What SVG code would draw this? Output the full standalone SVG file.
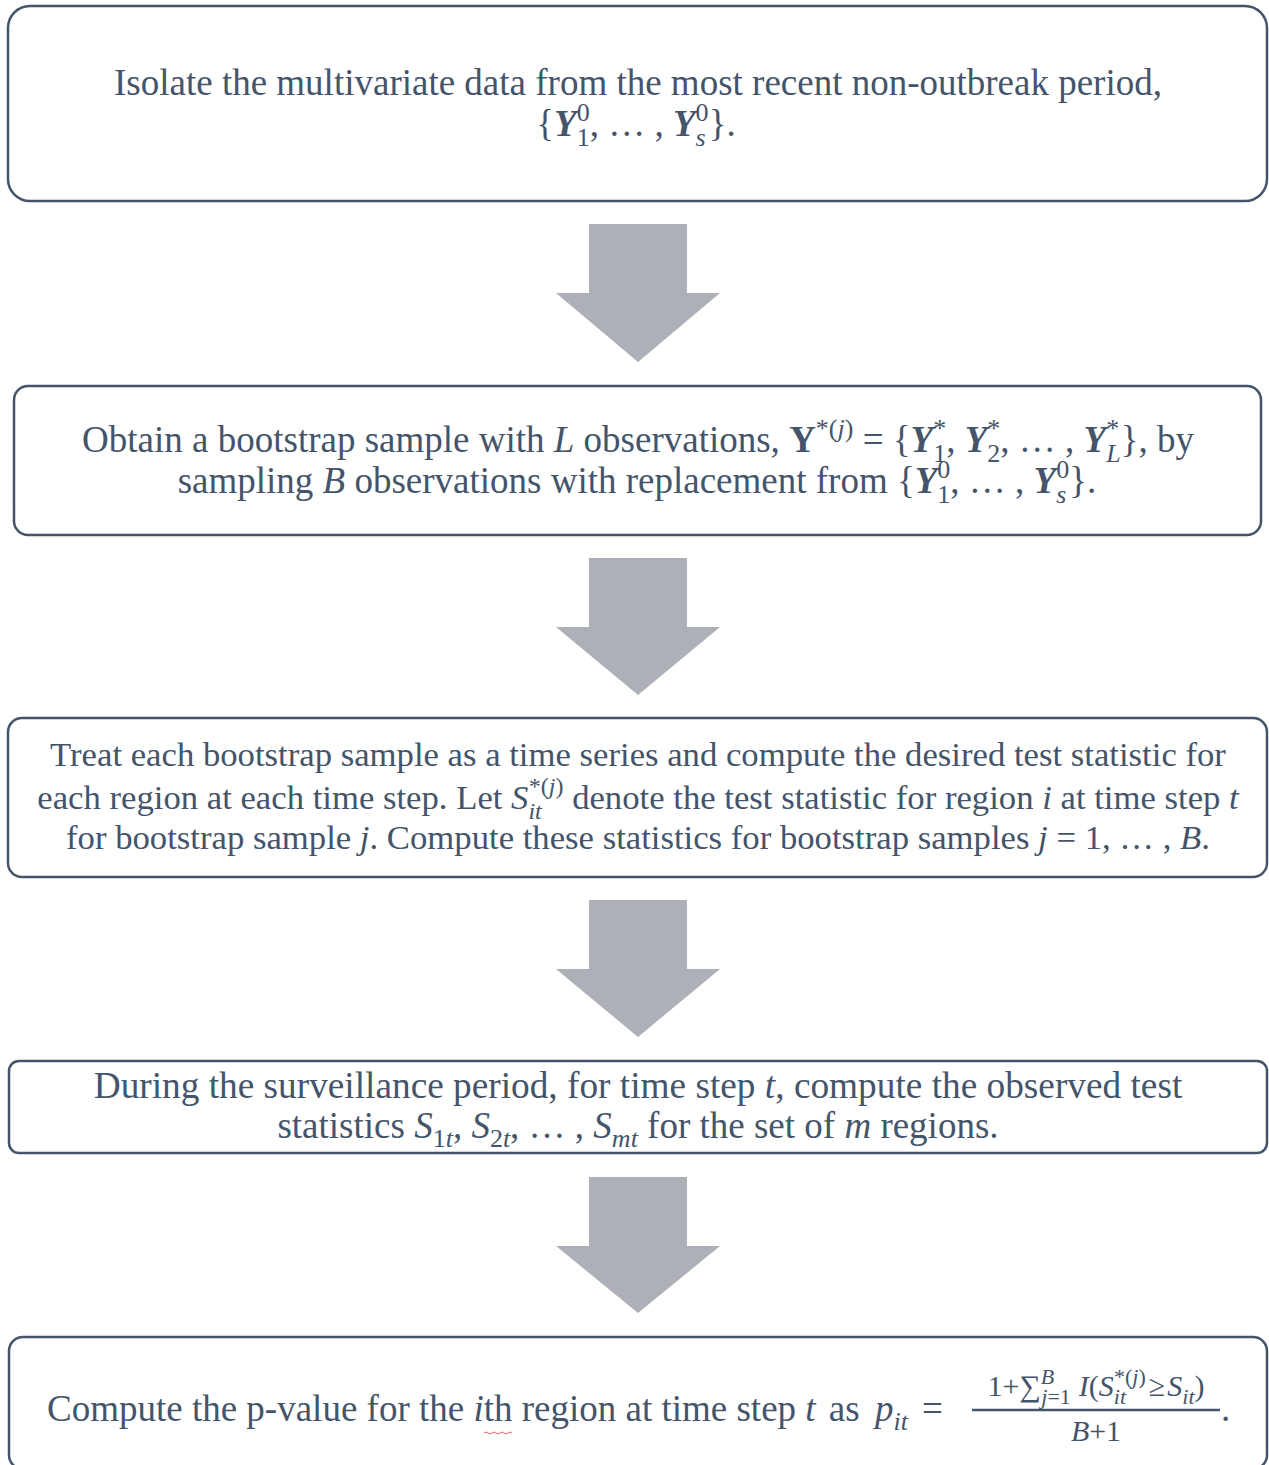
<svg xmlns="http://www.w3.org/2000/svg" width="1269" height="1465" viewBox="0 0 1269 1465">
<defs>
<style>
.box{fill:#FFFFFF;stroke:#44546A;stroke-width:2.5}
.arr{fill:#AEB0B8}
.t{font-family:"Liberation Serif","Times New Roman",serif;font-size:37px;fill:#44546A}
.t3{font-size:34.7px}
.t4{font-size:37.3px}
.c{text-anchor:middle}
.i{font-style:italic}
.bi{font-style:italic;font-weight:bold}
.b{font-weight:bold}
.s{font-size:26px}
.s3{font-size:24px}
.n{font-family:"Liberation Serif","Times New Roman",serif;font-size:30px;fill:#44546A}
.ss{font-size:22px}
</style>
</defs>
<rect width="1269" height="1465" fill="#FFFFFF"/>
<g id="connectors">
<polygon class="arr" points="589,224 687,224 687,293 720,293 638,362 556,293 589,293"/>
<polygon class="arr" points="589,558 687,558 687,627 720,627 638,695 556,627 589,627"/>
<polygon class="arr" points="589,900 687,900 687,969 720,969 638,1037 556,969 589,969"/>
<polygon class="arr" points="589,1177 687,1177 687,1246 720,1246 638,1313 556,1246 589,1246"/>
</g>
<g id="node1">
<rect class="box" x="8" y="6" width="1259" height="195" rx="22"/>
<text class="t c" x="638" y="95">Isolate the multivariate data from the most recent non-outbreak period,</text>
<text class="t c" x="636" y="136">{<tspan class="bi">Y</tspan><tspan class="s" dy="-15">0</tspan><tspan class="s" dx="-13" dy="25">1</tspan><tspan dy="-10">, … , </tspan><tspan class="bi">Y</tspan><tspan class="s" dy="-15">0</tspan><tspan class="s i" dx="-13" dy="25">s</tspan><tspan dx="3" dy="-10">}.</tspan></text>
</g>
<g id="node2">
<rect class="box" x="14" y="386" width="1247" height="149" rx="14"/>
<text class="t c" x="638" y="452">Obtain a bootstrap sample with <tspan class="i">L</tspan> observations, <tspan class="b">Y</tspan><tspan class="s" dy="-15">*(<tspan class="i">j</tspan>)</tspan><tspan dy="15"> = {</tspan><tspan class="bi">Y</tspan><tspan class="s" dy="-15">*</tspan><tspan class="s" dx="-13" dy="25">1</tspan><tspan dy="-10">, </tspan><tspan class="bi">Y</tspan><tspan class="s" dy="-15">*</tspan><tspan class="s" dx="-13" dy="25">2</tspan><tspan dy="-10">, … , </tspan><tspan class="bi">Y</tspan><tspan class="s" dy="-15">*</tspan><tspan class="s i" dx="-13" dy="25">L</tspan><tspan dy="-10">}, by</tspan></text>
<text class="t c" x="637" y="493">sampling <tspan class="i">B</tspan> observations with replacement from {<tspan class="bi">Y</tspan><tspan class="s" dy="-15">0</tspan><tspan class="s" dx="-13" dy="25">1</tspan><tspan dy="-10">, … , </tspan><tspan class="bi">Y</tspan><tspan class="s" dy="-15">0</tspan><tspan class="s i" dx="-13" dy="25">s</tspan><tspan dx="3" dy="-10">}.</tspan></text>
</g>
<g id="node3">
<rect class="box" x="8" y="718" width="1259" height="159" rx="14"/>
<text class="t t3 c" x="638" y="766">Treat each bootstrap sample as a time series and compute the desired test statistic for</text>
<text class="t t3 c" x="638" y="809">each region at each time step. Let <tspan class="i">S</tspan><tspan class="s3 i" dy="10">it</tspan><tspan class="s3" dx="-13" dy="-25">*(<tspan class="i">j</tspan>)</tspan><tspan dy="15"> denote the test statistic for region </tspan><tspan class="i">i</tspan> at time step <tspan class="i">t</tspan></text>
<text class="t t3 c" x="638" y="849">for bootstrap sample <tspan class="i">j</tspan>. Compute these statistics for bootstrap samples <tspan class="i">j</tspan> = 1, … , <tspan class="i">B</tspan>.</text>
</g>
<g id="node4">
<rect class="box" x="9" y="1061" width="1258" height="92" rx="10"/>
<text class="t t4 c" x="638" y="1098">During the surveillance period, for time step <tspan class="i">t</tspan>, compute the observed test</text>
<text class="t c" x="638" y="1138">statistics <tspan class="i">S</tspan><tspan class="s" dy="9">1<tspan class="i">t</tspan></tspan><tspan dy="-9">, </tspan><tspan class="i">S</tspan><tspan class="s" dy="9">2<tspan class="i">t</tspan></tspan><tspan dy="-9">, … , </tspan><tspan class="i">S</tspan><tspan class="s i" dy="9">mt</tspan><tspan dy="-9"> for the set of </tspan><tspan class="i">m</tspan> regions.</text>
</g>
<g id="node5">
<rect class="box" x="9" y="1337" width="1258" height="132" rx="14"/>
<text class="t" x="47" y="1421">Compute the p-value for the <tspan class="i">i</tspan>th region at time step <tspan class="i">t</tspan> <tspan dx="4">as</tspan> <tspan class="i" dx="6">p</tspan><tspan class="s i" dy="9">it</tspan><tspan dy="-9" dx="14">=</tspan></text>
<path d="M484,1433 q2,-2 4,0 t4,0 t4,0 t4,0 t4,0 t4,0 t4,0" fill="none" stroke="#E06060" stroke-width="1"/>
<text class="n c" x="1096" y="1396">1+∑<tspan class="ss i" dy="-12">B</tspan><tspan class="ss" dx="-13" dy="20"><tspan class="i">j</tspan>=1</tspan><tspan dy="-8" dx="8"><tspan class="i">I</tspan>(<tspan class="i">S</tspan></tspan><tspan class="ss i" dy="8">it</tspan><tspan class="ss" dx="-12" dy="-20">*(<tspan class="i">j</tspan>)</tspan><tspan dy="12" dx="3">≥</tspan><tspan class="i" dx="2">S</tspan><tspan class="ss i" dy="8">it</tspan><tspan dy="-8">)</tspan></text>
<line x1="972" y1="1410" x2="1220" y2="1410" stroke="#44546A" stroke-width="2.5"/>
<text class="n c i" x="1096" y="1441">B<tspan font-style="normal">+1</tspan></text>
<text class="t" x="1221" y="1421">.</text>
</g>
</svg>
